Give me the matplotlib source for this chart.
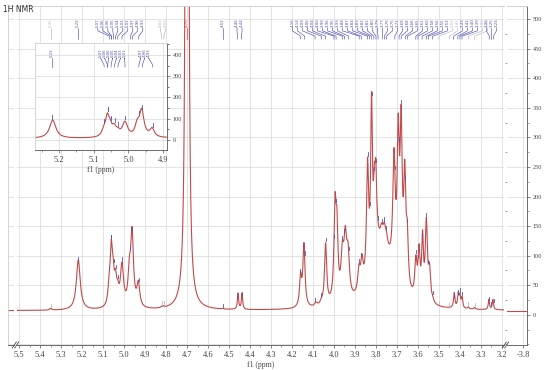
import numpy as np
import matplotlib.pyplot as plt
from matplotlib.ticker import MultipleLocator

# peak table: position (ppm), height, half width (ppm)
peak_ppm = [5.350, 5.218, 5.071, 5.061, 5.053, 5.041, 5.030, 5.010, 4.975, 4.962, 4.932,
            4.821, 4.812, 4.700, 4.530, 4.457, 4.438,
            4.159, 4.143, 4.086, 4.060, 4.040, 3.995, 3.986, 3.960, 3.946, 3.933, 3.881, 3.867,
            3.840, 3.821, 3.808, 3.801, 3.794, 3.773, 3.760, 3.750, 3.714, 3.694, 3.680,
            3.663, 3.651, 3.610, 3.595, 3.578, 3.560, 3.545, 3.530,
            3.427, 3.408, 3.400, 3.390, 3.360, 3.330, 3.262, 3.243, 3.770]
peak_height = [3, 85, 29, 86, 43, 40, 19, 69, 49, 124, 39,
               2, 2, 60000, 1, 27, 27,
               49, 105, 6, 5, 103, 150, 108, 70, 91, 69, 38, 46,
               191, 272, 90, 112, 15, 12, 18, 12, 191, 228, 252,
               176, 81, 60, 78, 100, 131, 51, 5,
               25, 23, 19, 17, 3, 3, 17, 17, 115]
peak_hwhm = [.006, .011, .007, .006, .006, .007, .007, .009, .007, .008, .008,
             .004, .004, .001, .004, .0035, .0035,
             .006, .006, .007, .008, .006, .006, .006, .008, .008, .008, .007, .007,
             .006, .005, .005, .005, .005, .006, .006, .006, .007, .006, .006,
             .006, .006, .006, .006, .005, .006, .006, .006,
             .004, .004, .004, .004, .004, .004, .0035, .0035, .05]
baseline = 7.0

# peak labels: groups of label values, colour per group
main_groups = [
    ([5.35], 'gray'),
    ([5.22], 'blue'),
    ([5.07, 5.06, 5.06, 5.05, 5.04, 5.03, 5.01, 4.97, 4.96, 4.93], 'blue'),
    ([4.82, 4.81], 'gray'),
    ([4.70], 'red'),
    ([4.53], 'blue'),
    ([4.46, 4.44], 'blue'),
    ([4.16, 4.14, 4.09, 4.06, 4.04, 4.00, 3.99, 3.96, 3.95, 3.93, 3.88, 3.87,
      3.84, 3.83, 3.82, 3.81, 3.80, 3.79, 3.77, 3.76, 3.75, 3.71, 3.69, 3.68,
      3.66, 3.65, 3.61, 3.60, 3.58, 3.56, 3.55, 3.53, 3.50, 3.45, 3.43, 3.41,
      3.40, 3.39, 3.36, 3.33], 'blue'),
    ([3.26, 3.25, 3.24], 'blue'),
]
gray_labels = [3.50, 3.45, 3.36, 3.33]
inset_groups = [
    ([5.22], 'blue'),
    ([5.07, 5.06, 5.06, 5.05, 5.04, 5.03, 5.01], 'blue'),
    ([4.97, 4.96, 4.93], 'blue'),
]
main_ticks = [round(5.5 - 0.1 * i, 1) for i in range(24)]
inset_ticks = [5.2, 5.1, 5.0, 4.9]

colors = {'blue': '#5050b4', 'gray': '#b8b8c8', 'red': '#d03a3a'}
line_col = '#c24a4a'
grid_col = '#dedede'


def spectrum(x):
    y = np.full_like(x, baseline)
    for p, h, w in zip(peak_ppm, peak_height, peak_hwhm):
        y += h * w ** 2 / ((x - p) ** 2 + w ** 2)
    return y


def draw_labels(ax, groups, step, y_text, y1, y2, y3, mark, fs):
    for vals, c in groups:
        n = len(vals)
        centre = np.mean(vals)
        for i, v in enumerate(vals):
            lx = centre + ((n - 1) / 2 - i) * step
            col = colors['gray'] if v in gray_labels and c == 'blue' else colors[c]
            ax.text(lx, y_text, '%.2f' % v, rotation=90, ha='center', va='bottom',
                    fontsize=fs, color=col, family='DejaVu Sans')
            ax.plot([lx, lx, v, v], [y_text - mark * 0.4, y1, y2, y3], color=col, lw=0.45)
            yp = spectrum(np.array([v]))[0]
            if yp < y3 - 20:
                ax.plot([v, v], [yp + mark * 0.4, yp + mark * 1.3], color=col, lw=0.6)


fig = plt.figure(figsize=(5.5, 3.7), dpi=100)
W, H = 550.0, 370.0
b = (H - 345) / H
h = (345 - 6) / H
ax_l = fig.add_axes([8 / W, b, 6 / W, h])
ax = fig.add_axes([17 / W, b, 487 / W, h])
ax_r = fig.add_axes([507 / W, b, 20 / W, h])

ylim = (-51, 522)
x_main = np.linspace(5.51, 3.19, 8000)
x_left = np.linspace(5.72, 5.69, 50)
x_right = np.linspace(-3.724, -3.819, 50)

for a, xs, xl in [(ax_l, x_left, (5.72, 5.69)), (ax, x_main, (5.51, 3.19)),
                  (ax_r, x_right, (-3.724, -3.819))]:
    a.plot(xs, spectrum(xs), color=line_col, lw=0.8)
    a.set_xlim(*xl)
    a.set_ylim(*ylim)
    a.yaxis.set_major_locator(MultipleLocator(50))
    a.grid(True, color=grid_col, lw=0.6)
    a.set_axisbelow(True)
    for s in a.spines.values():
        s.set_color('#cfcfcf')
        s.set_linewidth(0.6)
    a.spines['bottom'].set_color('#555555')
    a.tick_params(axis='y', left=False, right=False, labelleft=False, labelright=False)
    a.tick_params(axis='x', direction='out', length=2.5, width=0.5, color='#555555',
                  labelsize=6, labelcolor='#444444', pad=2)

ax_l.set_xticks([])
ax.spines['left'].set_visible(False)
ax.spines['right'].set_visible(False)
ax_l.spines['right'].set_visible(False)
ax_r.spines['left'].set_visible(False)

ax.set_xticks(main_ticks)
ax.set_xticklabels(['%.1f' % t for t in main_ticks], family='Liberation Serif')
ax.xaxis.set_minor_locator(MultipleLocator(0.05))
ax.tick_params(axis='x', which='minor', length=1.2, width=0.4, color='#555555')
ax.set_xlabel('f1 (ppm)', fontsize=5.5, family='Liberation Serif', color='#444444', labelpad=1)

ax_r.set_xticks([-3.8])
ax_r.set_xticklabels(['-3.8'], family='Liberation Serif')
ax_r.spines['right'].set_color('#555555')
ax_r.yaxis.set_minor_locator(MultipleLocator(25))
ax_r.set_yticks(range(0, 501, 50))
ax_r.tick_params(axis='y', right=True, labelright=True, direction='out', length=2.5,
                 width=0.5, color='#555555', labelsize=4.5, labelcolor='#444444', pad=1.5)
ax_r.tick_params(axis='y', which='minor', right=True, length=1.2, width=0.4, color='#555555')
for lab in ax_r.get_yticklabels():
    lab.set_family('Liberation Serif')

# axis break marks
for xb in [15.5, 505.5]:
    for dx in [-1.2, 1.2]:
        fig.add_artist(plt.Line2D([(xb + dx - 2) / W, (xb + dx + 2) / W],
                                  [b - 3 / H, b + 3 / H], color='#444444', lw=0.6))

# peak labels on the main spectrum (0.0238 ppm = 5 px)
draw_labels(ax, main_groups, 0.0238, 487, 480, 471, 466, 6, 2.8)

# inset with the 5.3-4.9 ppm region
axi = fig.add_axes([35 / W, (H - 150) / H, 132 / W, 107 / H])
x_ins = np.linspace(5.269, 4.889, 3000)
axi.plot(x_ins, spectrum(x_ins), color=line_col, lw=0.8)
axi.set_xlim(5.269, 4.889)
axi.set_ylim(-47, 456)
axi.set_facecolor('white')
axi.xaxis.set_major_locator(MultipleLocator(0.05))
axi.yaxis.set_major_locator(MultipleLocator(100))
axi.grid(True, color=grid_col, lw=0.6)
axi.set_axisbelow(True)
for s in axi.spines.values():
    s.set_color('#cfcfcf')
    s.set_linewidth(0.6)
axi.spines['bottom'].set_color('#555555')
axi.spines['right'].set_color('#555555')
axi.set_xticks(inset_ticks)
axi.set_xticklabels(['%.1f' % t for t in inset_ticks], family='Liberation Serif')
axi.xaxis.set_minor_locator(MultipleLocator(0.05))
axi.set_yticks(range(0, 401, 100))
axi.yaxis.set_minor_locator(MultipleLocator(50))
axi.tick_params(axis='x', direction='out', length=2.5, width=0.5, color='#555555',
                labelsize=6, labelcolor='#444444', pad=2)
axi.tick_params(axis='x', which='minor', length=1.2, width=0.4, color='#555555')
axi.tick_params(axis='y', left=False, labelleft=False, right=True, labelright=True,
                direction='out', length=2.5, width=0.5, color='#555555',
                labelsize=4.5, labelcolor='#444444', pad=1.5)
axi.tick_params(axis='y', which='minor', left=False, right=True, length=1.2, width=0.4)
for lab in axi.get_yticklabels():
    lab.set_family('Liberation Serif')
axi.set_xlabel('f1 (ppm)', fontsize=5.5, family='Liberation Serif', color='#444444', labelpad=1)
draw_labels(axi, inset_groups, 0.0115, 392, 385, 352, 343, 20, 2.8)

fig.text(3 / W, (H - 9) / H, '1H NMR', fontsize=5.5, color='#333333', va='center')

fig.savefig('out.png', dpi=100, facecolor='white')
